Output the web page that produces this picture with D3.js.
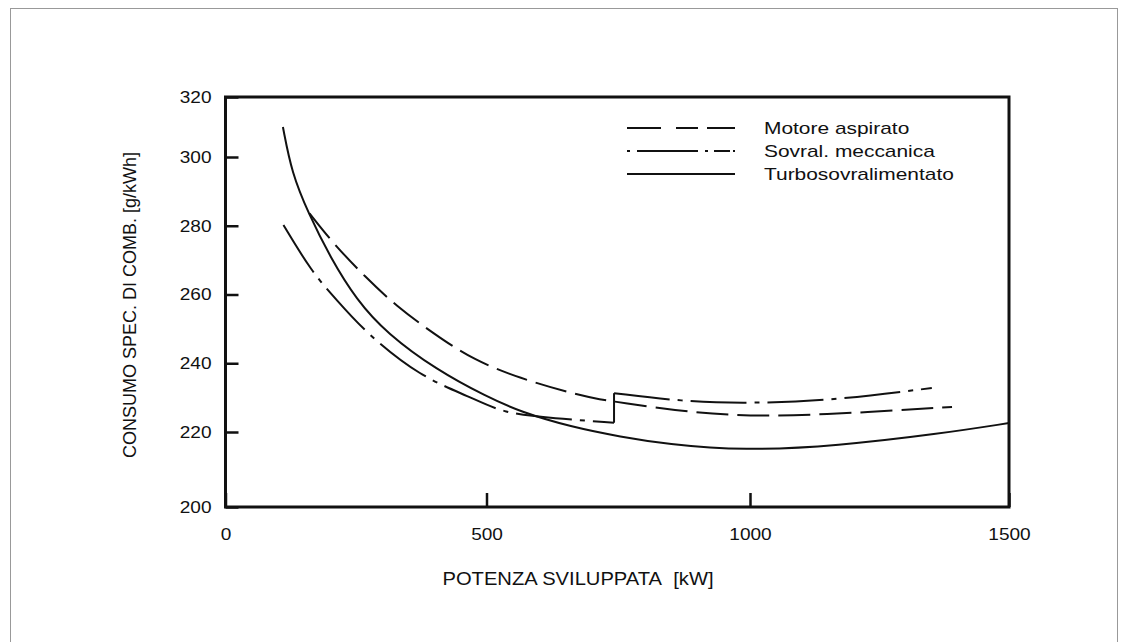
<!DOCTYPE html>
<html>
<head>
<meta charset="utf-8">
<script src="https://cdn.jsdelivr.net/npm/d3@7"></script>
<style>
  body { margin: 0; background: #fff; }
  text { font-family: "Liberation Sans", Arial, Helvetica, sans-serif; fill: #111; }
</style>
</head>
<body>
<svg id="chart" width="1127" height="642"></svg>
<script>
// Specific fuel consumption vs. developed power

const xTicks = [0, 500, 1000, 1500];
const yTicks = [200, 220, 240, 260, 280, 300, 320];

// [kW, g/kWh]
const turbo = [
  [110, 310], [127, 295.3], [159, 283.6], [200, 271], [251, 258.4], [309, 248.7],
  [405, 238], [500, 230.3], [564, 225.9], [660, 221.5], [756, 218.7], [840, 216.8],
  [989, 215], [1168, 216.3], [1365, 219.5], [1500, 222.6]
];
const aspirato = [
  [161, 283.6], [206, 274.9], [267, 265.2], [328, 256.5], [398, 248.7], [475, 240.9],
  [564, 235.6], [660, 231.3], [720, 229.3], [747, 228.8], [896, 225.4], [1038, 224.4],
  [1234, 225.8], [1390, 227.3]
];
const sovralLow = [
  [111, 280.2], [165, 266.6], [213, 258.4], [270, 248.7], [373, 236.1], [468, 230.3],
  [532, 225.4], [628, 224], [742, 222.7]
];
const sovralHigh = [
  [742, 231.3], [876, 228.8], [1005, 228.3], [1168, 229.3], [1351, 232.8]
];

const legendLabels = ["Motore aspirato", "Sovral. meccanica", "Turbosovralimentato"];
const dashes = ["32,9", "56,8,5,8", null];

const svg = d3.select("#chart");

// the scanned figure is a bit wider than tall, so text gets stretched sideways
function stretch(sel, k) {
  sel.each(function () {
    const w = this.getComputedTextLength();
    d3.select(this).attr("textLength", w * k).attr("lengthAdjust", "spacingAndGlyphs");
  });
}

// hand-drawn axes are a little uneven, so the scales follow the drawn ticks
const x = d3.scaleLinear().domain([0, 500, 1000, 1500]).range([225.5, 486.5, 750, 1009]);
const y = d3.scaleLinear().domain([200, 220, 300, 320]).range([507, 432, 157, 97]);

// page border
svg.append("rect")
  .attr("x", 10.5).attr("y", 8.5).attr("width", 1107).attr("height", 700)
  .attr("fill", "none").attr("stroke", "#999").attr("stroke-width", 1);

const xAxis = svg.append("g")
  .attr("transform", `translate(0,${y(200)})`)
  .call(d3.axisBottom(x).tickValues(xTicks).tickSize(-14).tickPadding(21).tickFormat(d3.format("d")));

const yAxis = svg.append("g")
  .attr("transform", `translate(${x(0)},0)`)
  .call(d3.axisLeft(y).tickValues(yTicks).tickSize(-13).tickPadding(14).tickFormat(d3.format("d")));

[xAxis, yAxis].forEach(a => {
  a.select(".domain").remove();
  a.selectAll("line").attr("stroke", "#111").attr("stroke-width", 2.5);
  a.selectAll("text").attr("font-size", 17).attr("fill", "#111")
    .style("font-family", '"Liberation Sans", Arial, sans-serif')
    .call(stretch, 1.12);
});

svg.append("rect")
  .attr("x", x(0)).attr("y", y(320))
  .attr("width", x(1500) - x(0)).attr("height", y(200) - y(320))
  .attr("fill", "none").attr("stroke", "#111").attr("stroke-width", 3);

const line = d3.line().x(d => x(d[0])).y(d => y(d[1])).curve(d3.curveBasis);

function drawCurve(data, dash) {
  svg.append("path")
    .datum(data)
    .attr("d", line)
    .attr("fill", "none")
    .attr("stroke", "#111")
    .attr("stroke-width", 2)
    .attr("stroke-dasharray", dash);
}

drawCurve(turbo, null);
drawCurve(aspirato, dashes[0]);
drawCurve(sovralLow, dashes[1]);
drawCurve(sovralHigh, dashes[1]);

// jump of the mechanically supercharged curve
const jumpA = sovralLow[sovralLow.length - 1], jumpB = sovralHigh[0];
svg.append("line")
  .attr("x1", x(jumpA[0])).attr("y1", y(jumpA[1]))
  .attr("x2", x(jumpB[0])).attr("y2", y(jumpB[1]))
  .attr("stroke", "#111").attr("stroke-width", 2);

// legend
const legend = svg.append("g").attr("transform", "translate(627,128)");
const legendDash = ["34,15,22,9,30", "3,7,61,7,3,6,16", null];
legendLabels.forEach((label, i) => {
  const row = legend.append("g").attr("transform", `translate(0,${i * 23})`);
  row.append("line")
    .attr("x1", 0).attr("x2", 108).attr("y1", 0).attr("y2", 0)
    .attr("stroke", "#111").attr("stroke-width", 2)
    .attr("stroke-dasharray", legendDash[i]);
  row.append("text")
    .attr("x", 137).attr("y", 6)
    .attr("font-size", 17)
    .text(label)
    .call(stretch, 1.23);
});

// axis titles
svg.append("text")
  .attr("x", 578).attr("y", 585)
  .attr("text-anchor", "middle")
  .attr("font-size", 18)
  .text("POTENZA SVILUPPATA\u00a0\u00a0[kW]")
  .call(stretch, 1.12);

svg.append("text")
  .attr("transform", "translate(136,305) rotate(-90)")
  .attr("text-anchor", "middle")
  .attr("font-size", 18)
  .text("CONSUMO SPEC. DI COMB. [g/kWh]");
</script>
</body>
</html>
